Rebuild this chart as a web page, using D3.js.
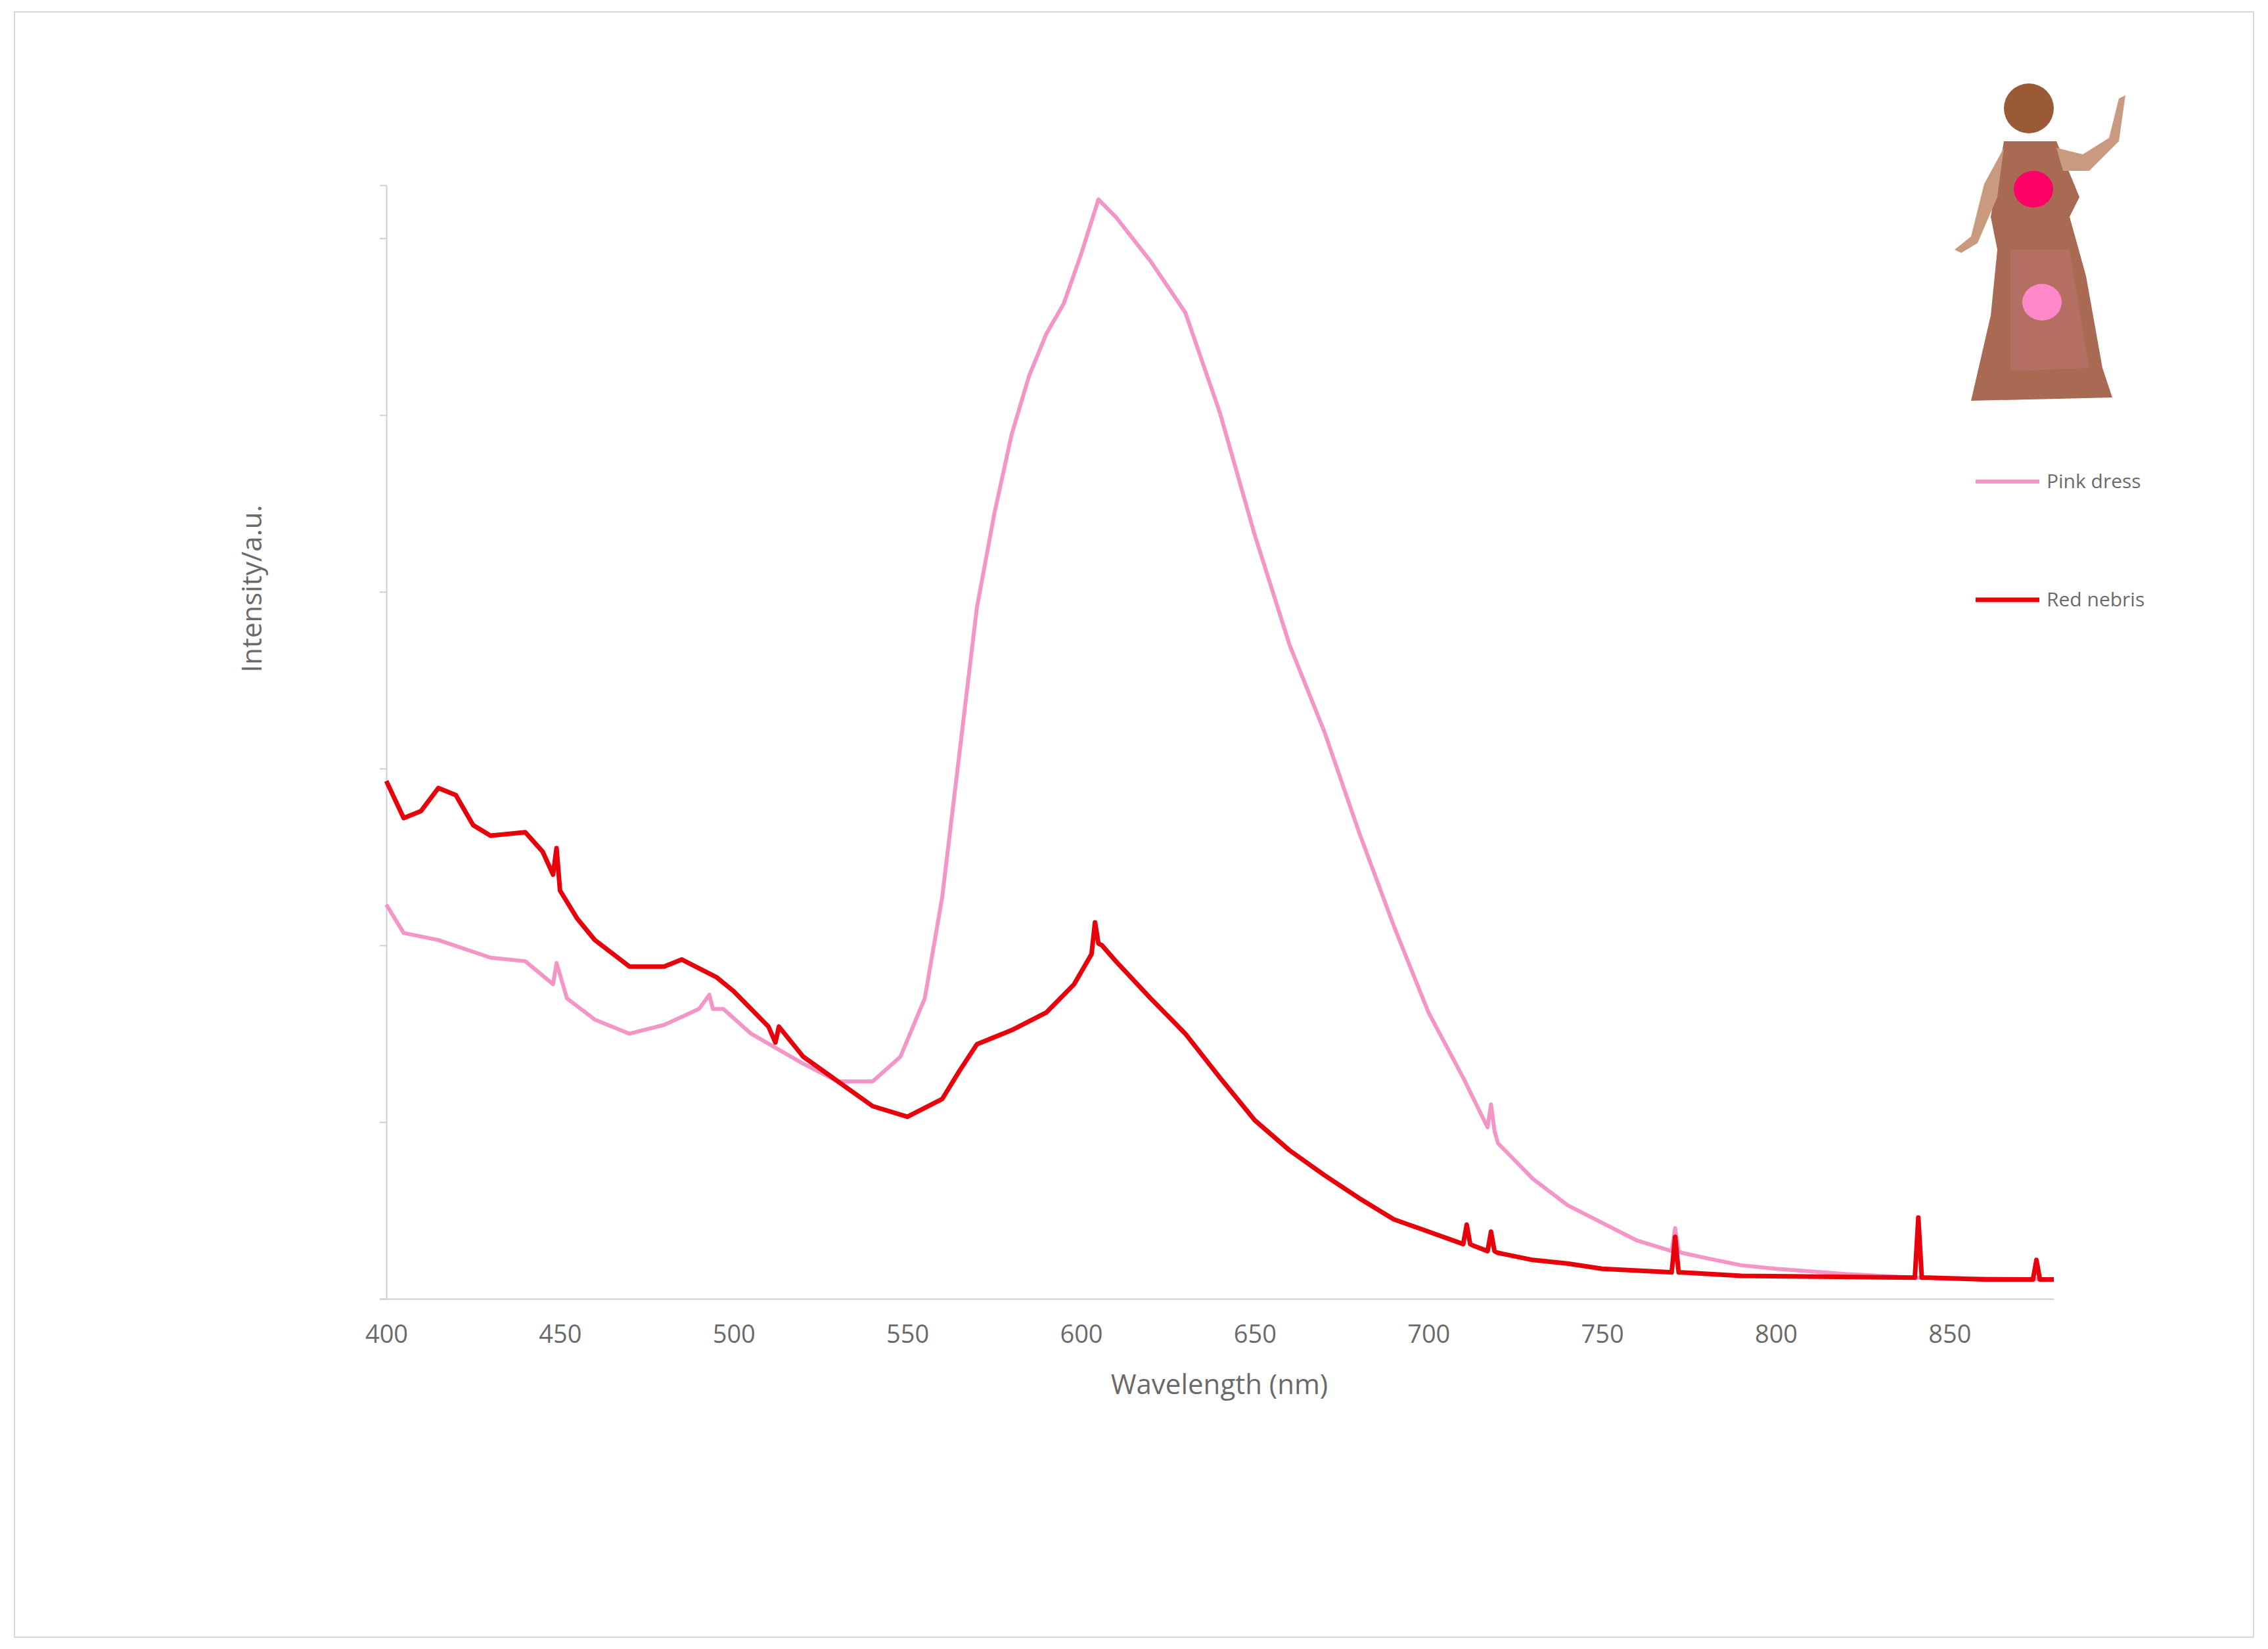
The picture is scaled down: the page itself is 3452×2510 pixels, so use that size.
<!DOCTYPE html>
<html><head><meta charset="utf-8">
<script src="https://cdn.jsdelivr.net/npm/d3@7/dist/d3.min.js"></script>
<style>body{margin:0;background:#fff}</style></head>
<body><svg id="c" width="3452" height="2510"></svg>
<script>
const xTicks=[400,450,500,550,600,650,700,750,800,850];
const yTicks=[0,1,2,3,4,5,6];
const seriesNames=["Pink dress","Red nebris"];
const pinkX=[400,405,415,430,440,448,449,452,460,470,480,490,493,494,497,505,520,530,540,548,555,560,565,570,575,580,585,590,595,600,605,610,620,630,640,650,660,670,680,690,700,710,717,718,719,720,730,740,750,760,770,771,772,773,780,790,800,820,840,880];
const pinkY=[2.23,2.07,2.03,1.93,1.91,1.78,1.9,1.70,1.58,1.50,1.55,1.64,1.72,1.64,1.64,1.50,1.33,1.23,1.23,1.37,1.70,2.27,3.09,3.91,4.44,4.89,5.22,5.46,5.63,5.91,6.22,6.12,5.87,5.58,5.01,4.32,3.70,3.21,2.64,2.11,1.62,1.25,0.97,1.1,0.95,0.88,0.68,0.53,0.43,0.33,0.27,0.4,0.27,0.26,0.23,0.19,0.17,0.14,0.12,0.11];
const redX=[400,405,410,415,420,425,430,440,445,448,449,450,455,460,470,480,485,495,500,510,512,513,520,530,540,550,560,565,570,580,590,598,603,604,605,606,610,620,630,640,650,660,670,680,690,700,710,711,712,713,717,718,719,720,730,740,750,770,771,772,773,790,840,841,842,843,844,860,874,875,876,880];
const redY=[2.93,2.72,2.76,2.89,2.85,2.68,2.62,2.64,2.53,2.40,2.55,2.31,2.15,2.03,1.88,1.88,1.92,1.82,1.74,1.54,1.45,1.54,1.37,1.23,1.09,1.03,1.13,1.29,1.44,1.52,1.62,1.78,1.95,2.13,2.01,2.00,1.91,1.70,1.50,1.25,1.01,0.84,0.70,0.57,0.45,0.38,0.31,0.42,0.31,0.30,0.27,0.38,0.27,0.26,0.22,0.20,0.17,0.15,0.35,0.15,0.15,0.13,0.12,0.46,0.12,0.12,0.12,0.11,0.11,0.22,0.11,0.11];

const svg=d3.select("#c");
svg.append("rect").attr("x",22).attr("y",18).attr("width",3408).attr("height",2474).attr("fill","#fff").attr("stroke","#d9d9d9").attr("stroke-width",2);
const x=d3.scaleLinear().domain([400,880]).range([588,3126]);
const y=d3.scaleLinear().domain([0,6.3]).range([1977,282]);
const gx=svg.append("g").attr("transform","translate(0,1977)").call(d3.axisBottom(x).tickValues(xTicks).tickSize(0).tickPadding(40));
gx.select(".domain").attr("stroke","#d0d0d0").attr("stroke-width",2);
gx.selectAll("text").attr("font-family","Open Sans, sans-serif").attr("font-size",38).attr("fill","#6a6a6a");
const gy=svg.append("g").attr("transform","translate(588,0)").call(d3.axisLeft(y).tickValues(yTicks).tickSize(10).tickFormat(""));
gy.select(".domain").attr("stroke","#d0d0d0").attr("stroke-width",2);
gy.selectAll("line").attr("stroke","#d0d0d0").attr("stroke-width",2);
svg.append("text").attr("x",1856).attr("y",2122).attr("text-anchor","middle").attr("font-family","Open Sans, sans-serif").attr("font-size",42).attr("fill","#6a6a6a").text("Wavelength (nm)");
svg.append("text").attr("transform","translate(398,896) rotate(-90)").attr("text-anchor","middle").attr("font-family","Open Sans, sans-serif").attr("font-size",42).attr("fill","#6a6a6a").text("Intensity/a.u.");
const line=d3.line().x(d=>x(d[0])).y(d=>y(d[1]));
svg.append("path").datum(d3.zip(pinkX,pinkY)).attr("d",line).attr("fill","none").attr("stroke","#F495C8").attr("stroke-width",6).attr("stroke-linejoin","round");
svg.append("path").datum(d3.zip(redX,redY)).attr("d",line).attr("fill","none").attr("stroke","#E8000B").attr("stroke-width",7).attr("stroke-linejoin","round");
const leg=[{n:seriesNames[0],c:"#F495C8",w:6,y:733},{n:seriesNames[1],c:"#E8000B",w:7,y:913}];
leg.forEach(l=>{svg.append("line").attr("x1",3007).attr("x2",3104).attr("y1",l.y).attr("y2",l.y).attr("stroke",l.c).attr("stroke-width",l.w);
svg.append("text").attr("x",3115).attr("y",l.y+10).attr("font-family","Open Sans, sans-serif").attr("font-size",30).attr("fill","#6a6a6a").text(l.n);});
const f=svg.append("g");
f.append("ellipse").attr("cx",3088).attr("cy",165).attr("rx",38).attr("ry",38).attr("fill","#9a5a36");
f.append("path").attr("d","M3050,215 L3130,215 L3165,300 L3150,330 L3175,420 L3200,560 L3215,605 L3000,610 L3030,480 L3040,380 L3030,330 Z").attr("fill","#a86a52");
f.append("path").attr("d","M3050,225 L3020,280 L3000,360 L2975,380 L2985,385 L3010,370 L3040,300 Z").attr("fill","#c99a80");
f.append("path").attr("d","M3130,225 L3170,235 L3210,210 L3225,150 L3235,145 L3225,215 L3180,260 L3140,260 Z").attr("fill","#c99a80");
f.append("path").attr("d","M3060,380 L3150,380 L3180,560 L3060,565 Z").attr("fill","#b86f66").attr("opacity",0.8);
f.append("ellipse").attr("cx",3095).attr("cy",288).attr("rx",30).attr("ry",28).attr("fill","#FF0066");
f.append("ellipse").attr("cx",3108).attr("cy",460).attr("rx",30).attr("ry",28).attr("fill","#FF88C8");
</script></body></html>
